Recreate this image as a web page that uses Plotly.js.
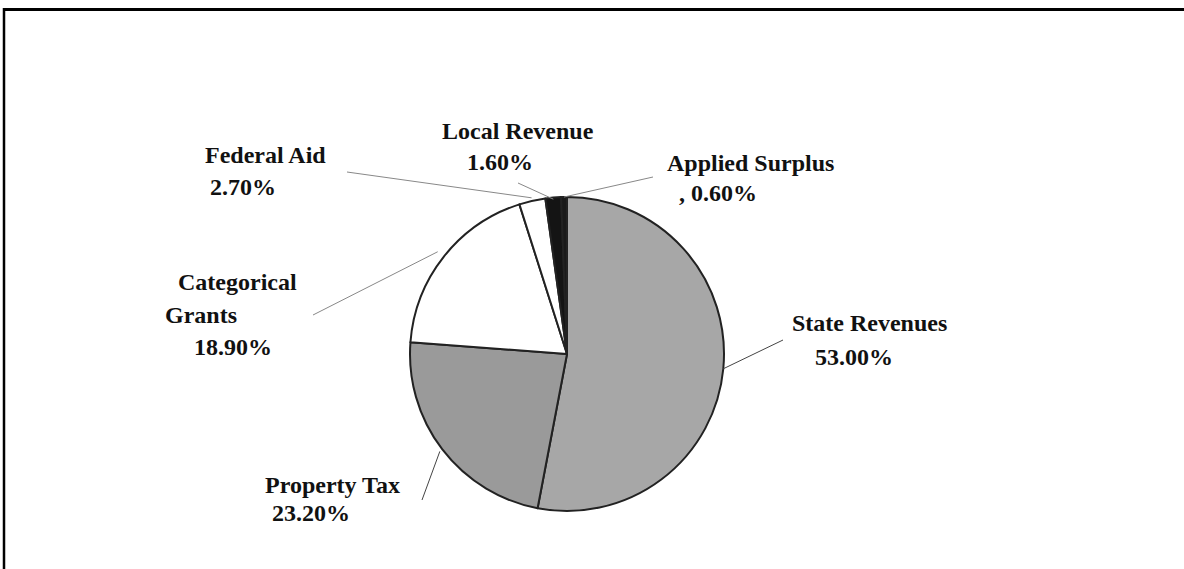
<!DOCTYPE html>
<html>
<head>
<meta charset="utf-8">
<script src="https://cdn.plot.ly/plotly-3.0.1.min.js"></script>
<style>
  html, body { margin: 0; padding: 0; background: #fff; }
  #chart { width: 1184px; height: 569px; }
</style>
</head>
<body>
<div id="chart"></div>
<script>
// ---- data ----
var categories = ["State Revenues", "Property Tax", "Categorical Grants", "Federal Aid", "Local Revenue", "Applied Surplus"];
var values = [53.0, 23.2, 18.9, 2.7, 1.6, 0.6];
var labelLines = [["State Revenues"], ["Property Tax"], ["Categorical", "Grants"], ["Federal Aid"], ["Local Revenue"], ["Applied Surplus"]];
var pctPrefix = ["", "", "", "", "", ", "];
var sliceColors = ["#a7a7a7", "#9a9a9a", "#ffffff", "#ffffff", "#141414", "#1a1a1a"];

// ---- layout (pixel positions of label lines: left x, centre y) ----
var W = 1184, H = 569;
var cx = 567, cy = 354, R = 157;
var labelPos = [
  [[790, 323], [813, 357]],
  [[263, 485], [270, 513]],
  [[176, 282], [163, 315], [192, 347]],
  [[203, 155], [208, 187]],
  [[440, 131], [465, 162]],
  [[665, 163], [677, 193]]
];
var leaderStart = [[783, 340], [422, 500], [313, 315], [347, 172], [518, 183], [653, 177]];
var leaderRadius = [1.0, 1.02, 1.05, 1.02, 0.99, 1.0];

function px(x) { return x / W; }
function py(y) { return 1 - y / H; }

var total = values.reduce(function (a, b) { return a + b; }, 0);
var annotations = [];
var shapes = [];
var cum = 0;
categories.forEach(function (c, i) {
  var lines = labelLines[i].concat([pctPrefix[i] + values[i].toFixed(2) + "%"]);
  lines.forEach(function (t, j) {
    var p = labelPos[i][j];
    annotations.push({
      x: px(p[0]), y: py(p[1]), xref: "paper", yref: "paper",
      xanchor: "left", yanchor: "middle", showarrow: false,
      text: "<b>" + t + "</b>",
      font: { family: "Liberation Serif, Times New Roman, serif", size: 24, color: "#111" }
    });
  });
  var mid = (cum + values[i] / 2) / total * 2 * Math.PI;
  cum += values[i];
  var ex = cx + R * leaderRadius[i] * Math.sin(mid);
  var ey = cy - R * leaderRadius[i] * Math.cos(mid);
  var s = leaderStart[i];
  shapes.push({
    type: "line", xref: "paper", yref: "paper",
    x0: px(s[0]), y0: py(s[1]), x1: px(ex), y1: py(ey),
    line: { color: i === 0 || i === 1 ? "#444" : "#888", width: 1 }
  });
});

// frame
shapes.push({ type: "line", xref: "paper", yref: "paper", x0: px(3), y0: py(9.5), x1: px(1184), y1: py(9.5), line: { color: "#000", width: 3 } });
shapes.push({ type: "line", xref: "paper", yref: "paper", x0: px(4), y0: py(8), x1: px(4), y1: py(569), line: { color: "#000", width: 2.5 } });

var trace = {
  type: "pie",
  labels: categories,
  values: values,
  sort: false,
  direction: "clockwise",
  rotation: 0,
  textinfo: "none",
  hoverinfo: "none",
  marker: { colors: sliceColors, line: { color: "#222", width: 2 } },
  domain: { x: [px(cx - R), px(cx + R)], y: [py(cy + R), py(cy - R)] }
};

var layout = {
  width: W, height: H,
  margin: { l: 0, r: 0, t: 0, b: 0 },
  paper_bgcolor: "#fff",
  showlegend: false,
  annotations: annotations,
  shapes: shapes
};

Plotly.newPlot("chart", [trace], layout, { displayModeBar: false, staticPlot: true });
</script>
</body>
</html>
